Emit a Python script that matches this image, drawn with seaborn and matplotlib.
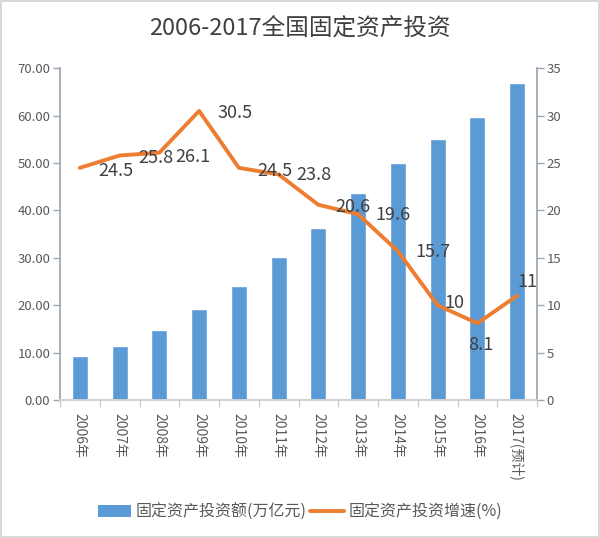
import numpy as np
import pandas as pd
import matplotlib
matplotlib.use("Agg")
import matplotlib.pyplot as plt
from matplotlib.patches import Patch
from matplotlib.lines import Line2D
import seaborn as sns

# ---- data ----
categories = ["2006年", "2007年", "2008年", "2009年", "2010年", "2011年",
              "2012年", "2013年", "2014年", "2015年", "2016年", "2017(预计)"]
investment = [9.3, 11.4, 14.8, 19.2, 24.1, 30.1, 36.4, 43.7, 50.1, 55.1, 59.7, 66.9]
growth = [24.5, 25.8, 26.1, 30.5, 24.5, 23.8, 20.6, 19.6, 15.7, 10, 8.1, 11]
bar_name = "固定资产投资额(万亿元)"
line_name = "固定资产投资增速(%)"
title = "2006-2017全国固定资产投资"
left_ticks = [0, 10, 20, 30, 40, 50, 60, 70]
right_ticks = [0, 5, 10, 15, 20, 25, 30, 35]

# label offsets in pixels (layout only)
label_offsets = [(36, -3), (36, -2), (34, -4), (36, -2), (36, -3), (35, -1),
                 (35, -2), (35, -1), (35, -1), (17, 2), (3, -22), (10, 14)]

sns.set_theme(style="white")
plt.rcParams['font.family'] = ['Noto Sans CJK SC', 'DejaVu Sans']

BAR = "#5B9BD5"
LINE = "#ED7D31"
TXT = "#404040"
TICK = "#595959"
SPINE = "#9aa7b5"

fig = plt.figure(figsize=(6.0, 5.38), dpi=100)
fig.patch.set_facecolor("white")
fig.patch.set_edgecolor("#d9d9d9")
fig.patch.set_linewidth(1.5)
ax = fig.add_axes([0.1, 0.2565, 0.795, 0.6165])

df = pd.DataFrame({"cat": categories, "inv": investment, "gr": growth})
df["pos"] = np.arange(len(df))

sns.barplot(data=df, x="cat", y="inv", ax=ax, color=BAR, width=0.4,
            saturation=1, order=categories)
ax.set_ylim(0, 70)
ax.set_xlim(-0.5, len(categories) - 0.5)
ax.set_yticks(left_ticks)
ax.set_yticklabels([f"{v:.2f}" for v in left_ticks])
ax.set_xlabel("")
ax.set_ylabel("")

ax2 = ax.twinx()
sns.lineplot(data=df, x="pos", y="gr", ax=ax2, color=LINE, linewidth=2.8,
             legend=False)
ax2.set_ylim(0, 35)
ax2.set_yticks(right_ticks)
ax2.set_yticklabels([f"{v:g}" for v in right_ticks])
ax2.set_xlim(-0.5, len(categories) - 0.5)
ax2.set_ylabel("")
ax2.set_xlabel("")

for i, (v, off) in enumerate(zip(growth, label_offsets)):
    ax2.annotate(f"{v:g}", (df["pos"][i], v), xytext=off,
                 textcoords="offset pixels", ha="center", va="center",
                 fontsize=13, color=TXT)

# x ticks
ax.set_xticks(np.arange(len(categories)))
ax.set_xticklabels(categories, rotation=-90, ha="center", va="top",
                   fontsize=10, color=TICK)
ax.set_xticks(np.arange(len(categories) + 1) - 0.5, minor=True)
ax.tick_params(axis="x", which="major", length=0, pad=9)
ax.tick_params(axis="x", which="minor", length=5, color="#d0d0d0", width=1,
               direction="out", bottom=True)
ax.tick_params(axis="y", which="major", length=5, color=SPINE, width=1,
               direction="out", labelsize=9.5, labelcolor=TICK, left=True, pad=2)
ax2.tick_params(axis="y", which="major", length=5, color=SPINE, width=1,
                direction="out", labelsize=9.5, labelcolor=TICK, right=True, pad=2)

for a in (ax, ax2):
    a.spines["top"].set_visible(False)
    a.spines["left"].set_color(SPINE)
    a.spines["right"].set_color(SPINE)
    a.spines["bottom"].set_color("#d0d0d0")
    a.grid(False)
    a.set_facecolor("none")
ax2.spines["left"].set_visible(False)
ax.spines["right"].set_visible(False)

fig.text(0.5, 0.946, title, ha="center", va="center", fontsize=17, color=TXT)

handles = [Patch(facecolor=BAR, edgecolor="none"),
           Line2D([0], [0], color=LINE, linewidth=2.8)]
fig.legend(handles, [bar_name, line_name], loc="center",
           bbox_to_anchor=(0.5, 1 - 512 / 538), ncol=2, frameon=False,
           fontsize=11.5, handlelength=2.1, handletextpad=0.3,
           columnspacing=0.2, labelcolor=TICK)

fig.savefig("out.png", dpi=100, facecolor=fig.get_facecolor(),
            edgecolor=fig.get_edgecolor())
